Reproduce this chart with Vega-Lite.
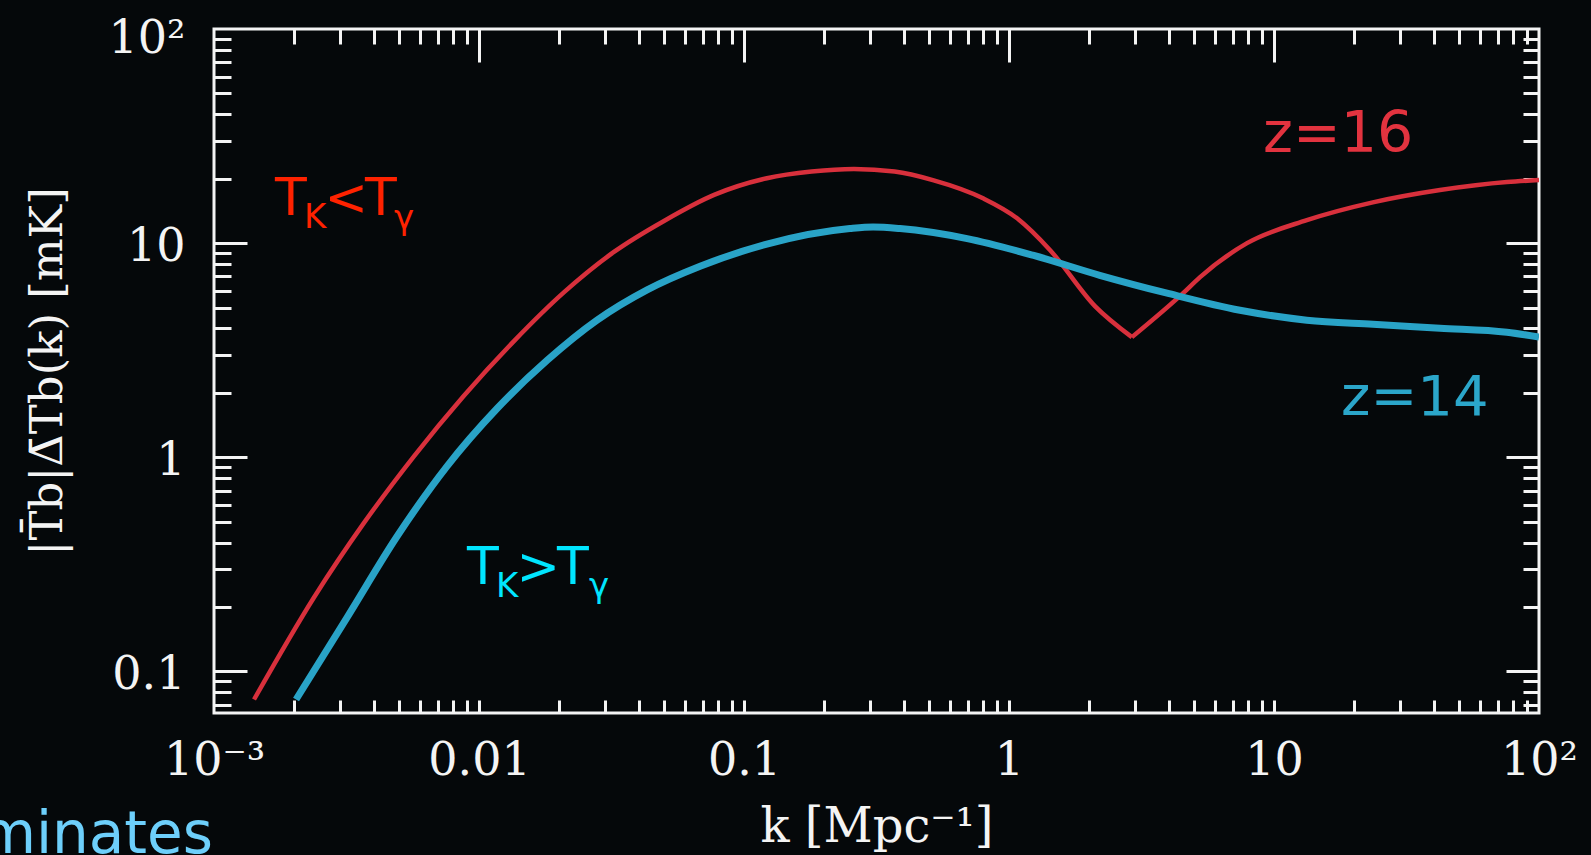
{
  "$schema": "https://vega.github.io/schema/vega-lite/v6.json",
  "width": 1325,
  "height": 684,
  "autosize": {"type": "none"},
  "padding": {"left": 214, "top": 29, "right": 52, "bottom": 142},
  "background": "#05080a",
  "config": {
    "view": {"stroke": "#f4f4f4", "strokeWidth": 3},
    "axis": {
      "grid": false,
      "domain": false,
      "tickColor": "#f4f4f4",
      "tickWidth": 3,
      "tickCap": "butt",
      "labelColor": "#f4f4f4",
      "titleColor": "#f4f4f4",
      "labelFont": "DejaVu Serif",
      "titleFont": "DejaVu Serif",
      "titleFontWeight": "normal"
    }
  },
  "datasets": {
    "curves": [
      {"k": 0.001416, "v": 0.074, "z": "16", "branch": "a"},
      {"k": 0.00238, "v": 0.221, "z": "16", "branch": "a"},
      {"k": 0.00368, "v": 0.494, "z": "16", "branch": "a"},
      {"k": 0.00569, "v": 1.014, "z": "16", "branch": "a"},
      {"k": 0.00877, "v": 1.94, "z": "16", "branch": "a"},
      {"k": 0.01355, "v": 3.49, "z": "16", "branch": "a"},
      {"k": 0.0209, "v": 5.89, "z": "16", "branch": "a"},
      {"k": 0.0323, "v": 9.1, "z": "16", "branch": "a"},
      {"k": 0.0499, "v": 12.7, "z": "16", "branch": "a"},
      {"k": 0.0771, "v": 16.8, "z": "16", "branch": "a"},
      {"k": 0.122, "v": 20.1, "z": "16", "branch": "a"},
      {"k": 0.18, "v": 21.6, "z": "16", "branch": "a"},
      {"k": 0.26, "v": 22.2, "z": "16", "branch": "a"},
      {"k": 0.37, "v": 21.6, "z": "16", "branch": "a"},
      {"k": 0.516, "v": 19.7, "z": "16", "branch": "a"},
      {"k": 0.798, "v": 16.2, "z": "16", "branch": "a"},
      {"k": 1.07, "v": 13.1, "z": "16", "branch": "a"},
      {"k": 1.43, "v": 9.27, "z": "16", "branch": "a"},
      {"k": 2.11, "v": 5.08, "z": "16", "branch": "a"},
      {"k": 2.91, "v": 3.64, "z": "16", "branch": "a"},
      {"k": 2.91, "v": 3.64, "z": "16", "branch": "b"},
      {"k": 4.54, "v": 5.84, "z": "16", "branch": "b"},
      {"k": 5.26, "v": 6.94, "z": "16", "branch": "b"},
      {"k": 7.91, "v": 10.0, "z": "16", "branch": "b"},
      {"k": 13.3, "v": 12.8, "z": "16", "branch": "b"},
      {"k": 23.6, "v": 15.5, "z": "16", "branch": "b"},
      {"k": 42.3, "v": 17.7, "z": "16", "branch": "b"},
      {"k": 75.7, "v": 19.3, "z": "16", "branch": "b"},
      {"k": 100, "v": 19.7, "z": "16", "branch": "b"},
      {"k": 0.00204, "v": 0.074, "z": "14", "branch": "a"},
      {"k": 0.00318, "v": 0.179, "z": "14", "branch": "a"},
      {"k": 0.00491, "v": 0.428, "z": "14", "branch": "a"},
      {"k": 0.00757, "v": 0.908, "z": "14", "branch": "a"},
      {"k": 0.0117, "v": 1.69, "z": "14", "branch": "a"},
      {"k": 0.0181, "v": 2.84, "z": "14", "branch": "a"},
      {"k": 0.0279, "v": 4.37, "z": "14", "branch": "a"},
      {"k": 0.0431, "v": 6.05, "z": "14", "branch": "a"},
      {"k": 0.0683, "v": 7.8, "z": "14", "branch": "a"},
      {"k": 0.122, "v": 9.9, "z": "14", "branch": "a"},
      {"k": 0.251, "v": 11.7, "z": "14", "branch": "a"},
      {"k": 0.307, "v": 11.9, "z": "14", "branch": "a"},
      {"k": 0.388, "v": 11.7, "z": "14", "branch": "a"},
      {"k": 0.695, "v": 10.5, "z": "14", "branch": "a"},
      {"k": 1.23, "v": 8.79, "z": "14", "branch": "a"},
      {"k": 2.2, "v": 7.08, "z": "14", "branch": "a"},
      {"k": 3.95, "v": 5.84, "z": "14", "branch": "a"},
      {"k": 7.44, "v": 4.86, "z": "14", "branch": "a"},
      {"k": 13.3, "v": 4.37, "z": "14", "branch": "a"},
      {"k": 23.6, "v": 4.18, "z": "14", "branch": "a"},
      {"k": 42.3, "v": 4.01, "z": "14", "branch": "a"},
      {"k": 75.7, "v": 3.84, "z": "14", "branch": "a"},
      {"k": 100, "v": 3.64, "z": "14", "branch": "a"}
    ],
    "notes": [
      {"t": "T", "k": 0.001699, "v": 13.54, "grp": "cold", "part": "main"},
      {"t": "<", "k": 0.002612, "v": 13.54, "grp": "cold", "part": "main"},
      {"t": "T", "k": 0.003715, "v": 13.54, "grp": "cold", "part": "main"},
      {"t": "K", "k": 0.002186, "v": 11.78, "grp": "cold", "part": "sub"},
      {"t": "γ", "k": 0.004776, "v": 11.65, "grp": "cold", "part": "sub"},
      {"t": "T", "k": 0.00901, "v": 0.2564, "grp": "hot", "part": "main"},
      {"t": ">", "k": 0.01385, "v": 0.2564, "grp": "hot", "part": "main"},
      {"t": "T", "k": 0.01969, "v": 0.2564, "grp": "hot", "part": "main"},
      {"t": "K", "k": 0.01159, "v": 0.223, "grp": "hot", "part": "sub"},
      {"t": "γ", "k": 0.02601, "v": 0.223, "grp": "hot", "part": "sub"},
      {"t": "z=16", "k": 9.09, "v": 26.66, "grp": "z16", "part": "zlabel"},
      {"t": "z=14", "k": 17.9, "v": 1.578, "grp": "z14", "part": "zlabel"},
      {"t": "minates", "k": 0.000991, "v": 0.01422, "grp": "slide", "part": "slide"}
    ]
  },
  "layer": [
    {
      "data": {"name": "curves"},
      "transform": [{"filter": "datum.z == '16'"}],
      "mark": {"type": "line", "color": "#d8303c", "strokeWidth": 4.5, "clip": true, "interpolate": "monotone"},
      "encoding": {
        "x": {"field": "k", "type": "quantitative", "scale": {"type": "log", "domain": [0.001, 100]},
          "axis": {"orient": "bottom", "values": [0.001, 0.01, 0.1, 1, 10, 100], "ticks": false,
            "labelExpr": "datum.value < 0.002 ? '10⁻³' : datum.value < 0.02 ? '0.01' : datum.value < 0.2 ? '0.1' : datum.value < 2 ? '1' : datum.value < 20 ? '10' : '10²'",
            "labelFontSize": 46, "labelPadding": 25, "labelFlush": false, "labelOverlap": false, "labelBound": false,
            "title": "k  [Mpc⁻¹]", "titleFontSize": 48, "titlePadding": 20}},
        "y": {"field": "v", "type": "quantitative", "scale": {"type": "log", "domain": [0.064, 100]},
          "axis": {"orient": "left", "values": [0.1, 1, 10, 100], "ticks": false,
            "labelExpr": "datum.value < 0.2 ? '0.1' : datum.value < 2 ? '1' : datum.value < 20 ? '10' : '10²'",
            "labelFontSize": 46, "labelPadding": 29, "labelFlush": false, "labelOverlap": false,
            "labelOffset": {"condition": {"test": "datum.value > 50", "value": 9}, "value": 3},
            "title": "|T̄b|Δ̄Tb(k)  [mK]", "titleFontSize": 45, "titlePadding": 38}},
        "detail": {"field": "branch", "type": "nominal"}
      }
    },
    {
      "data": {"name": "curves"},
      "transform": [{"filter": "datum.z == '14'"}],
      "mark": {"type": "line", "color": "#29a3c7", "strokeWidth": 7, "clip": true, "interpolate": "monotone"},
      "encoding": {
        "x": {"field": "k", "type": "quantitative", "scale": {"type": "log", "domain": [0.001, 100]},
          "axis": {"orient": "bottom", "labels": false, "title": null, "tickSize": -13,
            "values": [0.002,0.003,0.004,0.005,0.006,0.007,0.008,0.009,0.01,0.02,0.03,0.04,0.05,0.06,0.07,0.08,0.09,0.1,0.2,0.3,0.4,0.5,0.6,0.7,0.8,0.9,1,2,3,4,5,6,7,8,9,10,20,30,40,50,60,70,80,90]}},
        "y": {"field": "v", "type": "quantitative", "scale": {"type": "log", "domain": [0.064, 100]},
          "axis": {"orient": "left", "labels": false, "title": null, "tickSize": -33, "values": [0.1, 1, 10]}}
      }
    },
    {
      "data": {"name": "notes"},
      "transform": [{"filter": "datum.grp == 'cold' && datum.part == 'main'"}],
      "mark": {"type": "text", "font": "DejaVu Sans", "fontSize": 52, "color": "#ff2200", "align": "left", "baseline": "alphabetic"},
      "encoding": {
        "x": {"field": "k", "type": "quantitative", "scale": {"type": "log", "domain": [0.001, 100]},
          "axis": {"orient": "top", "labels": false, "title": null, "tickSize": -33, "values": [0.01, 0.1, 1, 10]}},
        "y": {"field": "v", "type": "quantitative", "scale": {"type": "log", "domain": [0.064, 100]},
          "axis": {"orient": "left", "labels": false, "title": null, "tickSize": -17,
            "values": [0.07,0.08,0.09,0.2,0.3,0.4,0.5,0.6,0.7,0.8,0.9,2,3,4,5,6,7,8,9,20,30,40,50,60,70,80,90]}},
        "text": {"field": "t"}
      }
    },
    {
      "data": {"name": "notes"},
      "transform": [{"filter": "datum.grp == 'cold' && datum.part == 'sub'"}],
      "mark": {"type": "text", "font": "DejaVu Sans", "fontSize": 34, "color": "#ff2200", "align": "left", "baseline": "alphabetic"},
      "encoding": {
        "x": {"field": "k", "type": "quantitative", "scale": {"type": "log", "domain": [0.001, 100]},
          "axis": {"orient": "top", "labels": false, "title": null, "tickSize": -15,
            "values": [0.002,0.003,0.004,0.005,0.006,0.007,0.008,0.009,0.02,0.03,0.04,0.05,0.06,0.07,0.08,0.09,0.2,0.3,0.4,0.5,0.6,0.7,0.8,0.9,2,3,4,5,6,7,8,9,20,30,40,50,60,70,80,90]}},
        "y": {"field": "v", "type": "quantitative", "scale": {"type": "log", "domain": [0.064, 100]},
          "axis": {"orient": "right", "labels": false, "title": null, "tickSize": -33, "values": [0.1, 1, 10]}},
        "text": {"field": "t"}
      }
    },
    {
      "data": {"name": "notes"},
      "transform": [{"filter": "datum.grp == 'hot' && datum.part == 'main'"}],
      "mark": {"type": "text", "font": "DejaVu Sans", "fontSize": 52, "color": "#00e5ff", "align": "left", "baseline": "alphabetic"},
      "encoding": {
        "x": {"field": "k", "type": "quantitative", "scale": {"type": "log", "domain": [0.001, 100]}, "axis": null},
        "y": {"field": "v", "type": "quantitative", "scale": {"type": "log", "domain": [0.064, 100]},
          "axis": {"orient": "right", "labels": false, "title": null, "tickSize": -16,
            "values": [0.07,0.08,0.09,0.2,0.3,0.4,0.5,0.6,0.7,0.8,0.9,2,3,4,5,6,7,8,9,20,30,40,50,60,70,80,90]}},
        "text": {"field": "t"}
      }
    },
    {
      "data": {"name": "notes"},
      "transform": [{"filter": "datum.grp == 'hot' && datum.part == 'sub'"}],
      "mark": {"type": "text", "font": "DejaVu Sans", "fontSize": 34, "color": "#00e5ff", "align": "left", "baseline": "alphabetic"},
      "encoding": {
        "x": {"field": "k", "type": "quantitative", "scale": {"type": "log", "domain": [0.001, 100]}, "axis": null},
        "y": {"field": "v", "type": "quantitative", "scale": {"type": "log", "domain": [0.064, 100]}, "axis": null},
        "text": {"field": "t"}
      }
    },
    {
      "data": {"name": "notes"},
      "transform": [{"filter": "datum.grp == 'z16'"}],
      "mark": {"type": "text", "font": "DejaVu Sans", "fontSize": 57, "color": "#e2333f", "align": "left", "baseline": "alphabetic"},
      "encoding": {
        "x": {"field": "k", "type": "quantitative", "scale": {"type": "log", "domain": [0.001, 100]}, "axis": null},
        "y": {"field": "v", "type": "quantitative", "scale": {"type": "log", "domain": [0.064, 100]}, "axis": null},
        "text": {"field": "t"}
      }
    },
    {
      "data": {"name": "notes"},
      "transform": [{"filter": "datum.grp == 'z14'"}],
      "mark": {"type": "text", "font": "DejaVu Sans", "fontSize": 56, "color": "#2ba6ca", "align": "left", "baseline": "alphabetic"},
      "encoding": {
        "x": {"field": "k", "type": "quantitative", "scale": {"type": "log", "domain": [0.001, 100]}, "axis": null},
        "y": {"field": "v", "type": "quantitative", "scale": {"type": "log", "domain": [0.064, 100]}, "axis": null},
        "text": {"field": "t"}
      }
    },
    {
      "data": {"name": "notes"},
      "transform": [{"filter": "datum.grp == 'slide'"}],
      "mark": {"type": "text", "font": "DejaVu Sans", "fontSize": 58, "color": "#6dcffb", "align": "right", "baseline": "alphabetic"},
      "encoding": {
        "x": {"field": "k", "type": "quantitative", "scale": {"type": "log", "domain": [0.001, 100]}, "axis": null},
        "y": {"field": "v", "type": "quantitative", "scale": {"type": "log", "domain": [0.064, 100]}, "axis": null},
        "text": {"field": "t"}
      }
    }
  ],
  "resolve": {"axis": {"x": "independent", "y": "independent"}}
}
